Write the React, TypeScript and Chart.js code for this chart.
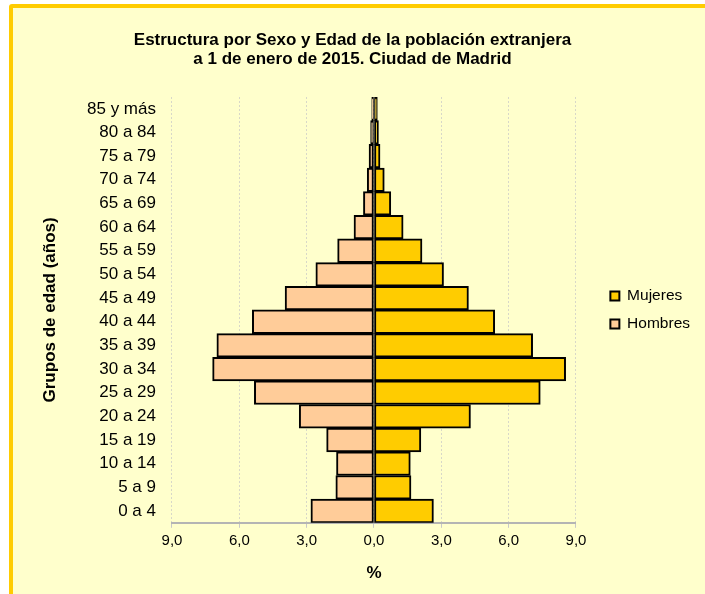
import React, { useEffect, useRef } from "react";
import { Chart, registerables } from "chart.js";

Chart.register(...registerables);

// Age groups, bottom to top
const categories = [
  "0 a 4", "5 a 9", "10 a 14", "15 a 19", "20 a 24", "25 a 29", "30 a 34",
  "35 a 39", "40 a 44", "45 a 49", "50 a 54", "55 a 59", "60 a 64",
  "65 a 69", "70 a 74", "75 a 79", "80 a 84", "85 y más",
];

// Percentages (men shown on the left as negative values)
const hombres = [
  -2.81, -1.70, -1.67, -2.11, -3.33, -5.33, -7.19, -7.00, -5.42, -3.96,
  -2.59, -1.62, -0.89, -0.47, -0.30, -0.22, -0.15, -0.10,
];
const mujeres = [
  2.65, 1.65, 1.62, 2.09, 4.30, 7.41, 8.54, 7.07, 5.38, 4.21,
  3.10, 2.14, 1.30, 0.75, 0.46, 0.27, 0.20, 0.15,
];

const xTicks = [-9, -6, -3, 0, 3, 6, 9];

const titleLines = [
  "Estructura por Sexo y Edad de la población extranjera",
  "a 1 de enero de 2015. Ciudad de Madrid",
];
const yTitle = "Grupos de edad (años)";
const xTitle = "%";

const FONT = "'Liberation Sans', Arial, Helvetica, sans-serif";

export default function App() {
  const ref = useRef<HTMLCanvasElement | null>(null);

  useEffect(() => {
    document.documentElement.style.overflow = "hidden";
    document.body.style.overflow = "hidden";
    const canvas = ref.current;
    if (!canvas) return;
    const chart = new Chart(canvas, {
      type: "bar",
      data: {
        labels: categories,
        datasets: [
          {
            label: "Mujeres",
            data: mujeres,
            backgroundColor: "#FFCC00",
            borderColor: "#000000",
            borderWidth: 2,
            borderSkipped: false,
            barPercentage: 1,
            categoryPercentage: 1,
          },
          {
            label: "Hombres",
            data: hombres,
            backgroundColor: "#FFCC99",
            borderColor: "#000000",
            borderWidth: 2,
            borderSkipped: false,
            barPercentage: 1,
            categoryPercentage: 1,
          },
        ],
      },
      options: {
        indexAxis: "y",
        responsive: false,
        animation: false,
        devicePixelRatio: 1,
        layout: { padding: { left: 0, right: 0, top: 0, bottom: 0 } },
        plugins: {
          title: {
            display: true,
            text: titleLines,
            color: "#000000",
            font: { family: FONT, size: 17, weight: "bold", lineHeight: 1.147 },
            padding: { top: 22.25, bottom: 27.75 },
          },
          legend: {
            display: true,
            position: "right",
            align: "center",
            fullSize: false,
            labels: {
              boxWidth: 9,
              boxHeight: 9,
              padding: 12.5,
              color: "#000000",
              font: { family: FONT, size: 15.5 },
            },
          },
          tooltip: { enabled: false },
        },
        scales: {
          x: {
            type: "linear",
            stacked: true,
            min: -9,
            max: 9,
            afterBuildTicks: (scale: any) => {
              scale.ticks = xTicks.map((v) => ({ value: v }));
            },
            ticks: {
              color: "#000000",
              font: { family: FONT, size: 15 },
              padding: 4,
              callback: (v: any) => Math.abs(Number(v)).toFixed(1).replace(".", ","),
            },
            grid: {
              display: true,
              color: "#D8D8C8",
              tickColor: "#C8C8C8",
              tickLength: 5,
              drawTicks: true,
            },
            border: { display: true, color: "#B4B4B4", width: 2, dash: [2, 2] },
            title: {
              display: true,
              text: xTitle,
              color: "#000000",
              font: { family: FONT, size: 17, weight: "bold" },
              padding: { top: 9.8, bottom: 10 },
            },
          },
          y: {
            type: "category",
            stacked: true,
            reverse: true,
            position: "left",
            grid: { display: false, drawTicks: false },
            border: { display: false },
            ticks: {
              color: "#000000",
              font: { family: FONT, size: 17 },
              padding: 16,
            },
            title: {
              display: true,
              text: yTitle,
              color: "#000000",
              font: { family: FONT, size: 17, weight: "bold" },
              padding: { top: 34.8, bottom: 10.8 },
            },
          },
          gap: {
            type: "category",
            position: "right",
            display: false,
            afterFit: (scale: any) => {
              scale.width = 21.9;
            },
          },
        },
      },
    } as any);
    return () => chart.destroy();
  }, []);

  return (
    <div
      style={{
        position: "fixed",
        left: 9,
        top: 4,
        width: 720,
        height: 620,
        border: "4px solid #FFCC00",
        borderRadius: 3,
        background: "#FFFFCC",
      }}
    >
      <canvas
        ref={ref}
        width={695}
        height={586}
        style={{ position: "absolute", left: -8, top: 0, display: "block", width: 695, height: 586 }}
      />
    </div>
  );
}
